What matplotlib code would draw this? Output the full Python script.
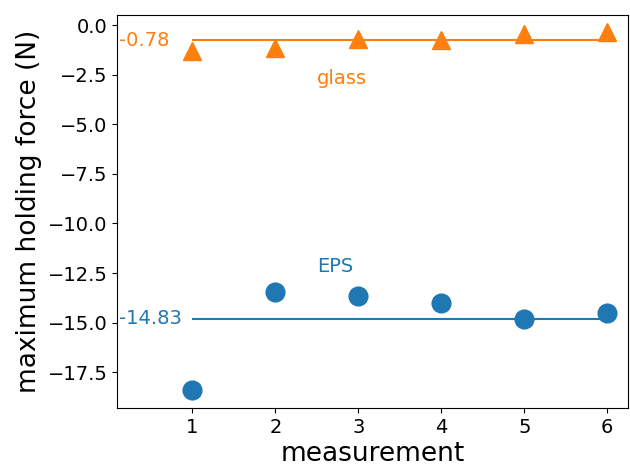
import matplotlib
matplotlib.use("Agg")
import matplotlib.pyplot as plt
import numpy as np

measurement = [1, 2, 3, 4, 5, 6]
eps_force = [-18.40, -13.47, -13.64, -14.01, -14.83, -14.53]
glass_force = [-1.30, -1.15, -0.68, -0.74, -0.45, -0.36]
eps_mean_label = "-14.83"
glass_mean_label = "-0.78"

eps_mean = np.mean(eps_force)
glass_mean = np.mean(glass_force)

fig = plt.figure(figsize=(6.3, 4.65), dpi=100)
ax = fig.add_axes([0.1862, 0.1219, 0.8106, 0.8465])

ax.plot(measurement, eps_force, 'o', color='tab:blue', ms=13.5)
ax.plot(measurement, glass_force, '^', color='tab:orange', ms=13.5)
ax.hlines(eps_mean, measurement[0], measurement[-1], color='tab:blue', lw=1.5)
ax.hlines(glass_mean, measurement[0], measurement[-1], color='tab:orange', lw=1.5)

ax.text(0.12, eps_mean, eps_mean_label, color='tab:blue', fontsize=14, ha='left', va='center')
ax.text(0.12, glass_mean, glass_mean_label, color='tab:orange', fontsize=14, ha='left', va='center')
ax.text(2.5, -12.15, "EPS", color='tab:blue', fontsize=14, ha='left', va='center')
ax.text(2.5, -2.7, "glass", color='tab:orange', fontsize=14, ha='left', va='center')

ax.set_xlim(0.095, 6.25)
ax.set_ylim(-19.32, 0.52)
ax.set_xticks(measurement)
ax.set_yticks(np.arange(-17.5, 0.1, 2.5))
ax.tick_params(labelsize=14)
ax.set_xlabel("measurement", fontsize=19, labelpad=3)
ax.set_ylabel("maximum holding force (N)", fontsize=19)

fig.savefig("out.png", dpi=100)
